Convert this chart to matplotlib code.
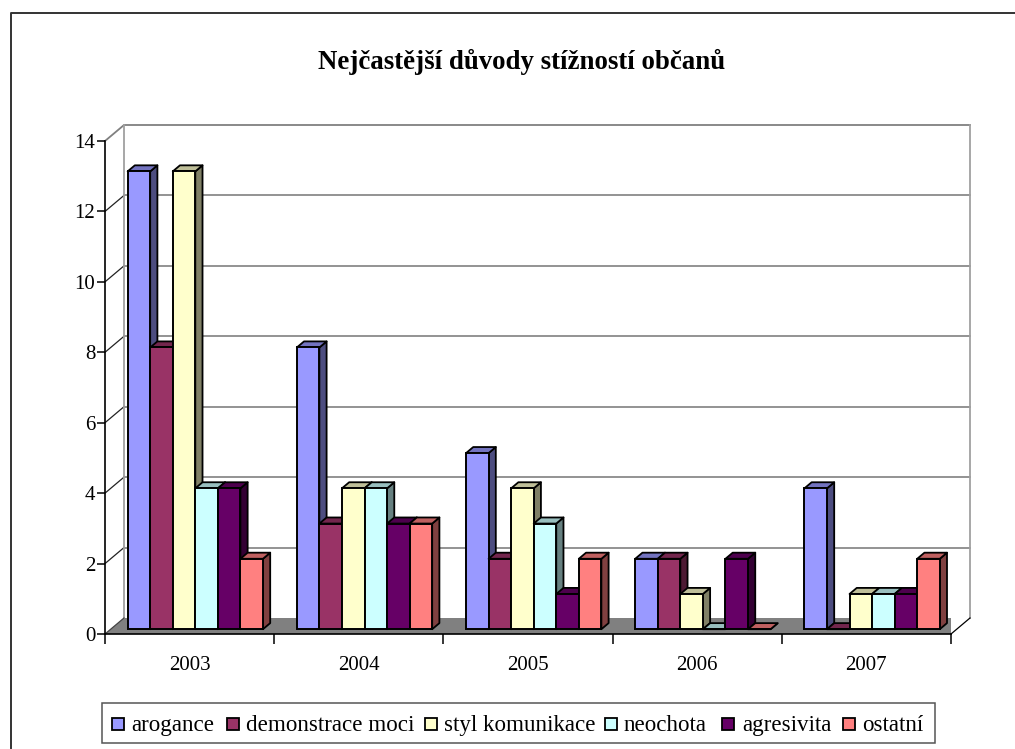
import numpy as np
import matplotlib
matplotlib.use("Agg")
import matplotlib.pyplot as plt
from matplotlib.colors import to_rgb
from matplotlib.patches import Polygon, Rectangle

plt.rcParams['font.family'] = ['Liberation Serif', 'DejaVu Serif']

years = ['2003', '2004', '2005', '2006', '2007']
arogance = [13, 8, 5, 2, 4]
demonstrace = [8, 3, 2, 2, 0]
styl = [13, 4, 4, 1, 1]
neochota = [4, 4, 3, 0, 1]
agresivita = [4, 3, 1, 2, 1]
ostatni = [2, 3, 2, 0, 2]

series = [arogance, demonstrace, styl, neochota, agresivita, ostatni]
names = ['arogance', 'demonstrace moci', 'styl komunikace', 'neochota', 'agresivita', 'ostatní']
colors = ['#9999FF', '#993366', '#FFFFCC', '#CCFFFF', '#660066', '#FF8080']

W, H = 1015, 749
fig = plt.figure(figsize=(W / 100, H / 100), dpi=100)
ax = fig.add_axes([105 / W, (H - 634) / H, 846 / W, 493 / H])
ax.set_xlim(0, 5)
ax.set_ylim(0, 14)
ax.patch.set_visible(False)

# depth of the fake 3D box, in data units
depth_x = 19 / (846 / 5)
depth_y = 16 / (493 / 14)
bar_front = 0.30
bar_back = 0.68

grey = '#808080'

# floor and walls
ax.add_patch(Polygon([(0, 0), (5, 0), (5 + depth_x, depth_y), (depth_x, depth_y)],
                     fc=grey, ec='none', zorder=1))
ax.add_patch(Polygon([(depth_x, depth_y), (depth_x, 14 + depth_y), (5 + depth_x, 14 + depth_y), (5 + depth_x, depth_y)],
                     fc='white', ec='none', zorder=0.5))
for y in range(2, 14, 2):
    ax.plot([depth_x, 5 + depth_x], [y + depth_y] * 2, color=grey, lw=1.2, zorder=1, clip_on=False)
    ax.plot([0, depth_x], [y, y + depth_y], color='#222222', lw=0.9, zorder=1, clip_on=False)
ax.plot([0, depth_x, 5 + depth_x], [14, 14 + depth_y, 14 + depth_y], color=grey, lw=1.3, zorder=1, clip_on=False)
ax.plot([depth_x, depth_x], [depth_y, 14 + depth_y], color='#A0A0A0', lw=1.3, zorder=1, clip_on=False)
ax.plot([5 + depth_x, 5 + depth_x], [depth_y, 14 + depth_y], color='#A0A0A0', lw=1.3, zorder=1, clip_on=False)
ax.plot([0, depth_x], [0, depth_y], color='#444444', lw=0.9, zorder=1.1, clip_on=False)
ax.plot([5, 5 + depth_x], [0, depth_y], color='black', lw=0.9, zorder=1.1, clip_on=False)

# bars, left to right so every bar covers the side of the previous one
bar_w = 0.8 / len(series)
fx, fy = bar_front * depth_x, bar_front * depth_y
bx, by = bar_back * depth_x - fx, bar_back * depth_y - fy
z = 2
for c in range(len(years)):
    for s, values in enumerate(series):
        v = values[c]
        rgb = np.array(to_rgb(colors[s]))
        x0 = c + 0.1 + s * bar_w + fx
        x1 = x0 + bar_w
        top = v + fy
        ax.add_patch(Polygon([(x1, fy), (x1 + bx, fy + by), (x1 + bx, top + by), (x1, top)],
                             fc=rgb * 0.5, ec='black', lw=1.3, zorder=z, joinstyle='round', clip_on=False))
        ax.add_patch(Polygon([(x0, top), (x1, top), (x1 + bx, top + by), (x0 + bx, top + by)],
                             fc=rgb * 0.75, ec='black', lw=1.3, zorder=z, joinstyle='round', clip_on=False))
        ax.bar(x0, v, bar_w, bottom=fy, align='edge', color=colors[s], edgecolor='black', linewidth=1.4,
               zorder=z + 0.5, clip_on=False)
        z += 1

# axes
for side in ['top', 'right']:
    ax.spines[side].set_visible(False)
for side in ['left', 'bottom']:
    ax.spines[side].set_linewidth(1.2)
    ax.spines[side].set_zorder(200)
ax.set_yticks(range(0, 15, 2))
ax.set_xticks(range(6))
ax.set_xticklabels([])
ax.set_xticks(np.arange(5) + 0.5, labels=years, minor=True)
ax.tick_params(axis='y', length=6, width=1.1, labelsize=15, pad=1)
ax.tick_params(axis='x', which='major', length=7, width=1.1)
ax.tick_params(axis='x', which='minor', length=0, labelsize=15, pad=16)

fig.text(521.5 / W, 1 - 62 / H, 'Nejčastější důvody stížností občanů', ha='center', va='center',
         fontsize=19.4, fontweight='bold')

# outer chart frame, open on the right and at the bottom
fig.add_artist(plt.Line2D([10.5 / W, 10.5 / W, 1], [0.002, 1 - 13 / H, 1 - 13 / H], color='#333333', lw=1.4))

# legend box
fig.add_artist(Rectangle((102 / W, 1 - 742.5 / H), 833 / W, 40 / H, fc='white', ec='#555555', lw=1.1,
                         transform=fig.transFigure))
swatch_x = [111.5, 227, 424.5, 605, 721.5, 842.5]
text_x = [131, 246, 444, 624, 742, 862]
for name, color, sx, tx in zip(names, colors, swatch_x, text_x):
    fig.add_artist(Rectangle((sx / W, 1 - 729.5 / H), 12 / W, 12 / H, fc=color, ec='black', lw=1.3,
                             transform=fig.transFigure))
    fig.text(tx / W, 1 - 723 / H, name, ha='left', va='center_baseline', fontsize=16.6)

fig.savefig('out.png', dpi=100)
